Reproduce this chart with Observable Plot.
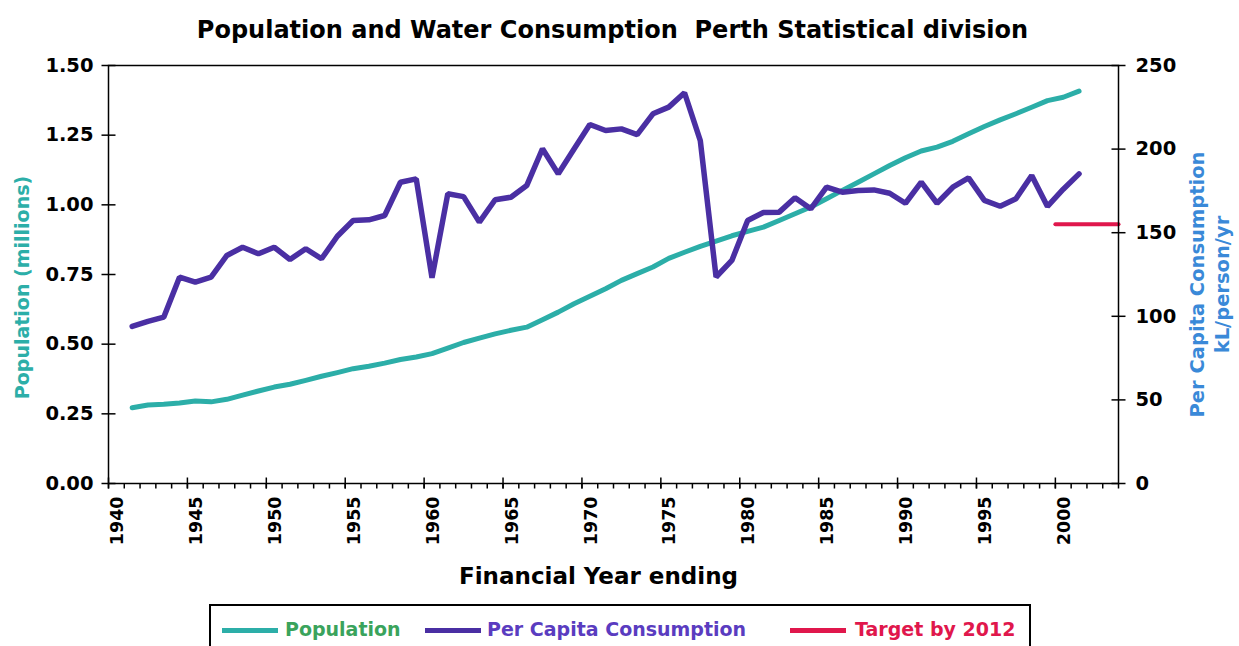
<!DOCTYPE html>
<html>
<head>
<meta charset="utf-8">
<script src="https://cdn.jsdelivr.net/npm/d3@7"></script>
<script src="https://cdn.jsdelivr.net/npm/@observablehq/plot@0.6"></script>
<style>
  html, body { margin: 0; padding: 0; background: #fff; width: 1239px; height: 646px; overflow: hidden; font-family: "DejaVu Sans", sans-serif; }
  #title { position: absolute; left: 0; top: 15px; width: 1225px; text-align: center; font-weight: bold; font-size: 24px; line-height: 30px; white-space: pre; color: #000; }
  #chart { position: absolute; left: 0; top: 48px; }
  #legendbox { position: absolute; left: 209px; top: 604px; width: 818px; height: 80px; border: 2.5px solid #000; }
  .sw { position: absolute; height: 4.5px; width: 56px; top: 628px; }
  .lt { position: absolute; top: 618px; font-size: 19px; font-weight: bold; line-height: 22px; white-space: pre; }
</style>
</head>
<body>
<div id="title">Population and Water Consumption  Perth Statistical division</div>
<div id="chart"></div>
<div id="legend"></div>
<script>
// Financial year (plotted mid-year)
const years = d3.range(1941, 2002);
// Population, millions
const population = [
  0.272, 0.282, 0.284, 0.289, 0.296, 0.293, 0.302, 0.317, 0.332, 0.346,
  0.356, 0.370, 0.385, 0.398, 0.412, 0.421, 0.432, 0.445, 0.454, 0.466,
  0.486, 0.506, 0.522, 0.537, 0.550, 0.561, 0.588, 0.615, 0.645, 0.672,
  0.699, 0.729, 0.753, 0.777, 0.808, 0.830, 0.851, 0.870, 0.889, 0.905,
  0.920, 0.944, 0.968, 0.992, 1.022, 1.052, 1.081, 1.111, 1.141, 1.169,
  1.193, 1.207, 1.228, 1.255, 1.281, 1.305, 1.327, 1.350, 1.374, 1.386,
  1.408
];
// Per capita consumption, kL/person/yr
const perCapita = [
  94.0, 97.0, 99.5, 123.4, 120.4, 123.4, 136.4, 141.3, 137.4, 141.3,
  134.0, 140.4, 134.4, 147.9, 157.3, 157.7, 160.3, 180.2, 182.2, 123.0,
  173.3, 171.6, 156.3, 169.7, 171.2, 178.2, 200.2, 185.2, 200.0, 214.7,
  211.1, 212.1, 208.7, 221.1, 225.1, 233.7, 205.1, 123.5, 133.4, 157.3,
  162.1, 162.3, 170.9, 164.3, 177.2, 174.2, 175.2, 175.6, 173.6, 167.6,
  180.2, 167.6, 177.2, 182.8, 169.3, 165.8, 170.3, 184.2, 165.7, 176.0,
  185.2
];
// Target by 2012
const targetYears = [2000, 2004];
const targetValue = 155;

const xDomain = [1940, 2004];
const popDomain = [0, 1.5];
const consDomain = [0, 250];
const popTicks = [0, 0.25, 0.5, 0.75, 1.0, 1.25, 1.5];
const consTicks = [0, 50, 100, 150, 200, 250];
const majorYears = d3.range(1940, 2001, 5);
const minorYears = d3.range(1940, 2005);

const teal = "#2caea8";
const purple = "#4a2fa3";
const red = "#e0174c";
const blue = "#3a89d8";

const k = popDomain[1] / consDomain[1]; // right-axis (kL) onto left-axis (millions)
const rows = years.map((yr, i) => ({ year: yr, pop: population[i], kl: perCapita[i] }));
const targetRows = targetYears.map(yr => ({ year: yr, kl: targetValue }));

// tick glyphs (pixel-length strokes centred on the axis position)
const sym = (x0, y0, x1, y1) => ({ draw(ctx) { ctx.moveTo(x0, y0); ctx.lineTo(x1, y1); } });
const hTick = sym(-7, 0, 7, 0);
const vMinor = sym(0, 0, 0, 5);
const vMajor = sym(0, -6, 0, 5);

const chart = Plot.plot({
  width: 1239, height: 557,
  marginLeft: 108, marginRight: 121, marginTop: 17, marginBottom: 122,
  x: { domain: xDomain, axis: null },
  y: { domain: popDomain, axis: null },
  style: { fontFamily: "DejaVu Sans, sans-serif", fontWeight: "bold", fontSize: "19px", color: "#000", background: "transparent", overflow: "visible" },
  marks: [
    Plot.line(rows, { x: d => d.year + 0.5, y: "pop", stroke: teal, strokeWidth: 5 }),
    Plot.line(rows, { x: d => d.year + 0.5, y: d => d.kl * k, stroke: purple, strokeWidth: 5.5, strokeLinejoin: "miter" }),
    Plot.line(targetRows, { x: "year", y: d => d.kl * k, stroke: red, strokeWidth: 4 }),
    Plot.frame({ stroke: "#000", strokeWidth: 1.5 }),
    // left axis
    Plot.dot(popTicks, { x: () => xDomain[0], y: d => d, symbol: hTick, stroke: "#000", strokeWidth: 1.5, fill: "none" }),
    Plot.text(popTicks, { x: () => xDomain[0], y: d => d, text: d => d.toFixed(2), textAnchor: "end", dx: -15, fontSize: 19.5, fill: "#000" }),
    // right axis
    Plot.dot(consTicks, { x: () => xDomain[1], y: d => d * k, symbol: hTick, stroke: "#000", strokeWidth: 1.5, fill: "none" }),
    Plot.text(consTicks, { x: () => xDomain[1], y: d => d * k, text: d => String(d), textAnchor: "start", dx: 17, fontSize: 19.5, fill: "#000" }),
    // bottom axis
    Plot.dot(minorYears, { x: d => d, y: () => popDomain[0], symbol: vMinor, stroke: "#000", strokeWidth: 1.5, fill: "none" }),
    Plot.dot(majorYears, { x: d => d, y: () => popDomain[0], symbol: vMajor, stroke: "#000", strokeWidth: 1.5, fill: "none" }),
    Plot.text(majorYears, { x: d => d, y: () => popDomain[0], text: d => String(d), rotate: -90, textAnchor: "end", dx: 9, dy: 13, fontSize: 17.5, fill: "#000" }),
    // axis titles
    Plot.text(["Population (millions)"], { frameAnchor: "left", textAnchor: "middle", text: d => d, rotate: -90, dx: -86, dy: 13, fill: teal, fontSize: 19 }),
    Plot.text(["Per Capita Consumption"], { frameAnchor: "right", textAnchor: "middle", text: d => d, rotate: -90, dx: 79, dy: 10, fill: blue, fontSize: 19.5 }),
    Plot.text(["kL/person/yr"], { frameAnchor: "right", textAnchor: "middle", text: d => d, rotate: -90, dx: 104, dy: 10, fill: blue, fontSize: 19.5 }),
    Plot.text(["Financial Year ending"], { frameAnchor: "bottom", textAnchor: "middle", text: d => d, dx: -15, dy: 100, fill: "#000", fontSize: 23 })
  ]
});
document.getElementById("chart").appendChild(chart);

// Legend
const legendItems = [
  { label: "Population", color: teal, textColor: "#3aa35c", sw: 222, tx: 285 },
  { label: "Per Capita Consumption", color: purple, textColor: "#5a3cc0", sw: 425, tx: 487 },
  { label: "Target by 2012", color: red, textColor: red, sw: 790, tx: 855 }
];
const lg = document.getElementById("legend");
lg.innerHTML = `<div id="legendbox"></div>` + legendItems.map(it =>
  `<div class="sw" style="left:${it.sw}px;background:${it.color}"></div>` +
  `<div class="lt" style="left:${it.tx}px;color:${it.textColor}">${it.label}</div>`
).join("");
</script>
</body>
</html>
